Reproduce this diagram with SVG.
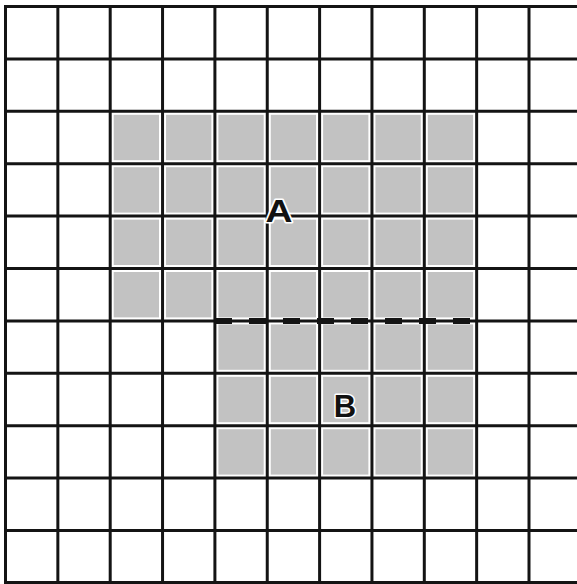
<svg xmlns="http://www.w3.org/2000/svg" width="577" height="584" viewBox="0 0 577 584">
<style>
.cell{fill:#c2c2c2}
.grid line{stroke:#141414;stroke-width:3}
.lbl{font-family:"Liberation Sans",Arial,sans-serif;font-weight:bold;font-size:31px;fill:#111;stroke:#fff;stroke-width:3;paint-order:stroke;stroke-linejoin:round;text-anchor:middle}
</style>
<rect width="577" height="584" fill="#fff"/>
<g id="cells">
<rect class="cell" x="113.7" y="114.8" width="45.3" height="45.4"/>
<rect class="cell" x="166.05" y="114.8" width="45.3" height="45.4"/>
<rect class="cell" x="218.4" y="114.8" width="45.3" height="45.4"/>
<rect class="cell" x="270.75" y="114.8" width="45.3" height="45.4"/>
<rect class="cell" x="323.1" y="114.8" width="45.3" height="45.4"/>
<rect class="cell" x="375.45" y="114.8" width="45.3" height="45.4"/>
<rect class="cell" x="427.8" y="114.8" width="45.3" height="45.4"/>
<rect class="cell" x="113.7" y="167.2" width="45.3" height="45.4"/>
<rect class="cell" x="166.05" y="167.2" width="45.3" height="45.4"/>
<rect class="cell" x="218.4" y="167.2" width="45.3" height="45.4"/>
<rect class="cell" x="270.75" y="167.2" width="45.3" height="45.4"/>
<rect class="cell" x="323.1" y="167.2" width="45.3" height="45.4"/>
<rect class="cell" x="375.45" y="167.2" width="45.3" height="45.4"/>
<rect class="cell" x="427.8" y="167.2" width="45.3" height="45.4"/>
<rect class="cell" x="113.7" y="219.6" width="45.3" height="45.4"/>
<rect class="cell" x="166.05" y="219.6" width="45.3" height="45.4"/>
<rect class="cell" x="218.4" y="219.6" width="45.3" height="45.4"/>
<rect class="cell" x="270.75" y="219.6" width="45.3" height="45.4"/>
<rect class="cell" x="323.1" y="219.6" width="45.3" height="45.4"/>
<rect class="cell" x="375.45" y="219.6" width="45.3" height="45.4"/>
<rect class="cell" x="427.8" y="219.6" width="45.3" height="45.4"/>
<rect class="cell" x="113.7" y="272" width="45.3" height="45.4"/>
<rect class="cell" x="166.05" y="272" width="45.3" height="45.4"/>
<rect class="cell" x="218.4" y="272" width="45.3" height="45.4"/>
<rect class="cell" x="270.75" y="272" width="45.3" height="45.4"/>
<rect class="cell" x="323.1" y="272" width="45.3" height="45.4"/>
<rect class="cell" x="375.45" y="272" width="45.3" height="45.4"/>
<rect class="cell" x="427.8" y="272" width="45.3" height="45.4"/>
<rect class="cell" x="218.4" y="324.4" width="45.3" height="45.4"/>
<rect class="cell" x="270.75" y="324.4" width="45.3" height="45.4"/>
<rect class="cell" x="323.1" y="324.4" width="45.3" height="45.4"/>
<rect class="cell" x="375.45" y="324.4" width="45.3" height="45.4"/>
<rect class="cell" x="427.8" y="324.4" width="45.3" height="45.4"/>
<rect class="cell" x="218.4" y="376.8" width="45.3" height="45.4"/>
<rect class="cell" x="270.75" y="376.8" width="45.3" height="45.4"/>
<rect class="cell" x="323.1" y="376.8" width="45.3" height="45.4"/>
<rect class="cell" x="375.45" y="376.8" width="45.3" height="45.4"/>
<rect class="cell" x="427.8" y="376.8" width="45.3" height="45.4"/>
<rect class="cell" x="218.4" y="429.2" width="45.3" height="45.4"/>
<rect class="cell" x="270.75" y="429.2" width="45.3" height="45.4"/>
<rect class="cell" x="323.1" y="429.2" width="45.3" height="45.4"/>
<rect class="cell" x="375.45" y="429.2" width="45.3" height="45.4"/>
<rect class="cell" x="427.8" y="429.2" width="45.3" height="45.4"/>
</g>
<g id="grid" class="grid">
<line x1="5.5" y1="5" x2="5.5" y2="584"/>
<line x1="57.85" y1="5" x2="57.85" y2="584"/>
<line x1="110.2" y1="5" x2="110.2" y2="584"/>
<line x1="162.55" y1="5" x2="162.55" y2="584"/>
<line x1="214.9" y1="5" x2="214.9" y2="584"/>
<line x1="267.25" y1="5" x2="267.25" y2="584"/>
<line x1="319.6" y1="5" x2="319.6" y2="584"/>
<line x1="371.95" y1="5" x2="371.95" y2="584"/>
<line x1="424.3" y1="5" x2="424.3" y2="584"/>
<line x1="476.65" y1="5" x2="476.65" y2="584"/>
<line x1="529" y1="5" x2="529" y2="584"/>
<line x1="4" y1="6.5" x2="577" y2="6.5"/>
<line x1="4" y1="58.9" x2="577" y2="58.9"/>
<line x1="4" y1="111.3" x2="577" y2="111.3"/>
<line x1="4" y1="163.7" x2="577" y2="163.7"/>
<line x1="4" y1="216.1" x2="577" y2="216.1"/>
<line x1="4" y1="268.5" x2="577" y2="268.5"/>
<line x1="4" y1="320.9" x2="577" y2="320.9"/>
<line x1="4" y1="373.3" x2="577" y2="373.3"/>
<line x1="4" y1="425.7" x2="577" y2="425.7"/>
<line x1="4" y1="478.1" x2="577" y2="478.1"/>
<line x1="4" y1="530.5" x2="577" y2="530.5"/>
<line x1="4" y1="582.5" x2="577" y2="582.5"/>
</g>
<g id="boundary">
<line x1="215" y1="320.9" x2="477" y2="320.9" stroke="#141414" stroke-width="6" stroke-dasharray="17 17"/>
</g>
<g id="labels">
<text class="lbl" x="279" y="222" textLength="27" lengthAdjust="spacingAndGlyphs">A</text>
<text class="lbl" x="345" y="417">B</text>
</g>
</svg>
